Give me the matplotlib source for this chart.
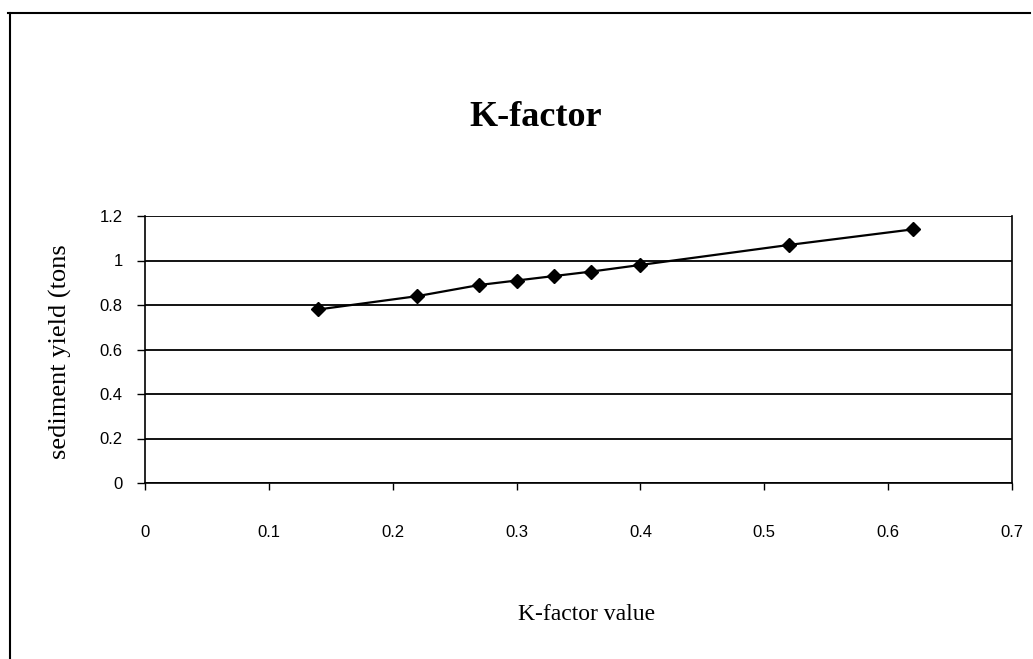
import matplotlib
matplotlib.use('Agg')
import matplotlib.pyplot as plt
from matplotlib.lines import Line2D

# K-factor values and sediment yield
k_factor = [0.14, 0.22, 0.27, 0.30, 0.33, 0.36, 0.40, 0.52, 0.62]
sediment = [0.78, 0.84, 0.89, 0.91, 0.93, 0.95, 0.98, 1.07, 1.14]

x_ticks = [0, 0.1, 0.2, 0.3, 0.4, 0.5, 0.6, 0.7]
x_labels = ['0', '0.1', '0.2', '0.3', '0.4', '0.5', '0.6', '0.7']
y_ticks = [0, 0.2, 0.4, 0.6, 0.8, 1.0, 1.2]
y_labels = ['0', '0.2', '0.4', '0.6', '0.8', '1', '1.2']

fig = plt.figure(figsize=(10.33, 6.59), dpi=100)
ax = fig.add_axes([145 / 1033, 1 - 483 / 659, (1012 - 145) / 1033, (483 - 216) / 659])

ax.plot(k_factor, sediment, color='black', linewidth=1.6, marker='D',
        markersize=7, markerfacecolor='black', zorder=3)

ax.set_xlim(0, 0.7)
ax.set_ylim(0, 1.2)
ax.set_xticks(x_ticks)
ax.set_xticklabels(x_labels, family='Liberation Sans', fontsize=12)
ax.set_yticks(y_ticks)
ax.set_yticklabels(y_labels, family='Liberation Sans', fontsize=12)
ax.tick_params(axis='x', direction='out', length=5, width=1, pad=25)
ax.tick_params(axis='y', direction='out', length=6, width=1, pad=10)
ax.yaxis.grid(True, color='black', linewidth=1.3)
ax.set_axisbelow(True)
for side in ['left', 'bottom', 'right']:
    ax.spines[side].set_color('black')
    ax.spines[side].set_linewidth(1.2)
ax.spines['top'].set_visible(False)

fig.text(60 / 1033, 1 - 352 / 659, 'sediment yield (tons', family='Liberation Serif',
         fontsize=19, rotation=90, ha='center', va='center')
fig.text(587 / 1033, 1 - 615 / 659, 'K-factor value', family='Liberation Serif',
         fontsize=17, ha='center', va='center')
fig.text(536 / 1033, 1 - 117 / 659, 'K-factor', family='Liberation Serif',
         fontsize=26, fontweight='bold', ha='center', va='center')

# outer chart border
fig.add_artist(Line2D([8 / 1033, 1030 / 1033], [1 - 13 / 659, 1 - 13 / 659],
                      transform=fig.transFigure, color='black', linewidth=1.5))
fig.add_artist(Line2D([10 / 1033, 10 / 1033], [1 - 13 / 659, 0],
                      transform=fig.transFigure, color='black', linewidth=1.5))

fig.savefig('out.png', dpi=100)
